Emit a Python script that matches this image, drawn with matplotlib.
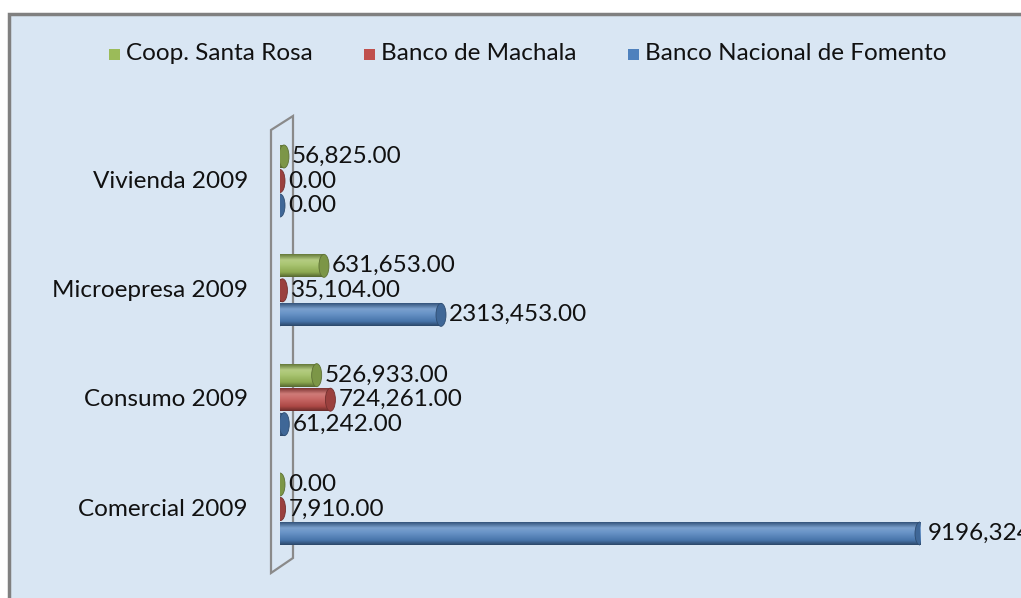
import matplotlib
matplotlib.use("Agg")
import matplotlib.pyplot as plt
import numpy as np
from matplotlib.patches import Ellipse, Rectangle, Polygon
from matplotlib.colors import LinearSegmentedColormap, to_rgb

# ---- data ----
categories = ["Comercial 2009", "Consumo 2009", "Microepresa 2009", "Vivienda 2009"]
series_names = ["Coop. Santa Rosa", "Banco de Machala", "Banco Nacional de Fomento"]
santa_rosa = [0.0, 526933.0, 631653.0, 56825.0]
machala = [7910.0, 724261.0, 35104.0, 0.0]
fomento = [9196324.0, 61242.0, 2313453.0, 0.0]
santa_rosa_labels = ["0.00", "526,933.00", "631,653.00", "56,825.00"]
machala_labels = ["7,910.00", "724,261.00", "35,104.00", "0.00"]
fomento_labels = ["9196,324.00", "61,242.00", "2313,453.00", "0.00"]

colors = ["#9bbb59", "#c0504d", "#4f81bd"]
series_vals = [santa_rosa, machala, fomento]
series_labels = [santa_rosa_labels, machala_labels, fomento_labels]

W, H = 1021, 598
fig = plt.figure(figsize=(W / 100, H / 100), dpi=100)
fig.patch.set_facecolor("white")

plt.rcParams["font.family"] = ["Lato", "DejaVu Sans"]
FS = 17.5

# background panel
bg = fig.add_axes([0, 0, 1, 1])
bg.set_xlim(0, W)
bg.set_ylim(H, 0)
bg.axis("off")
bg.add_patch(Rectangle((9, 14), W + 20, H + 20, facecolor="#d9e6f3",
                       edgecolor="#808080", linewidth=2.5))
# back wall of the 3D chart
bg.add_patch(Polygon([(271, 130), (293, 116), (293, 558), (271, 573)],
                     closed=True, facecolor="none", edgecolor="#8a8a8a", linewidth=1.6))

# main axes: x=0 at px 280, 9196324 at px 920 ; y: group 0 at px 509, group 3 at px 181
px_per_group = (509 - 181) / 3.0
ylo, yhi = -0.75, 3.75
top_px = 181 - (yhi - 3) * px_per_group
bot_px = 509 + (0 - ylo) * px_per_group
x0_px, x1_px = 280, 920
xmax = max(fomento)
ax = fig.add_axes([x0_px / W, 1 - bot_px / H, (x1_px - x0_px) / W, (bot_px - top_px) / H])
ax.set_xlim(0, xmax)
ax.set_ylim(ylo, yhi)
ax.axis("off")
ax.patch.set_alpha(0)

units_per_px = xmax / (x1_px - x0_px)
bar_off = 24.5 / px_per_group
bar_h = 23 / px_per_group
cap_w = 10 * units_per_px

def shade(c, f):
    r = np.array(to_rgb(c))
    if f >= 0:
        return tuple(r + (1 - r) * f)
    return tuple(r * (1 + f))

ypos = np.arange(len(categories))
for si, (vals, labs, col) in enumerate(zip(series_vals, series_labels, colors)):
    offset = bar_off * (1 - si)  # green top, red middle, blue bottom
    cmap = LinearSegmentedColormap.from_list(
        "c%d" % si,
        [(0.0, shade(col, -0.35)), (0.25, shade(col, 0.25)), (0.45, shade(col, 0.15)),
         (0.8, shade(col, -0.1)), (1.0, shade(col, -0.45))])
    grad = np.linspace(0, 1, 64).reshape(-1, 1)
    for gi, (v, lab) in enumerate(zip(vals, labs)):
        yc = ypos[gi] + offset
        bars = ax.barh(yc, v, height=bar_h, color=col, linewidth=0)
        if v > 0:
            im = ax.imshow(grad, cmap=cmap, aspect="auto",
                           extent=[0, v, yc - bar_h / 2, yc + bar_h / 2],
                           origin="upper", zorder=2, interpolation="bilinear")
            im.set_clip_path(bars[0])
            ax.add_patch(Ellipse((0, yc), cap_w * 0.6, bar_h, facecolor=shade(col, -0.05),
                                 edgecolor="none", zorder=1.9))
        # end cap
        ax.add_patch(Ellipse((v, yc), cap_w, bar_h, facecolor=shade(col, -0.2),
                             edgecolor=shade(col, -0.4), linewidth=0.6, zorder=3))
        ax.text(v + cap_w * 0.5 + 3 * units_per_px, yc, lab, ha="left", va="center",
                fontsize=FS, color="#111111", clip_on=False, zorder=4)

ax.set_xlim(0, xmax)
ax.set_ylim(ylo, yhi)

# category labels
for gi, cat in enumerate(categories):
    ax.text(-32 * units_per_px, ypos[gi], cat, ha="right", va="center",
            fontsize=FS, color="#111111", clip_on=False)

# legend
leg_items = [(113, series_names[0], colors[0]), (368, series_names[1], colors[1]),
             (632, series_names[2], colors[2])]
for xpx, name, col in leg_items:
    bg.add_patch(Rectangle((xpx - 4, 49), 11, 11, facecolor=col, edgecolor="none"))
    bg.text(xpx + 13, 54, name, ha="left", va="center", fontsize=FS, color="#111111")

fig.savefig("out.png", dpi=100)
